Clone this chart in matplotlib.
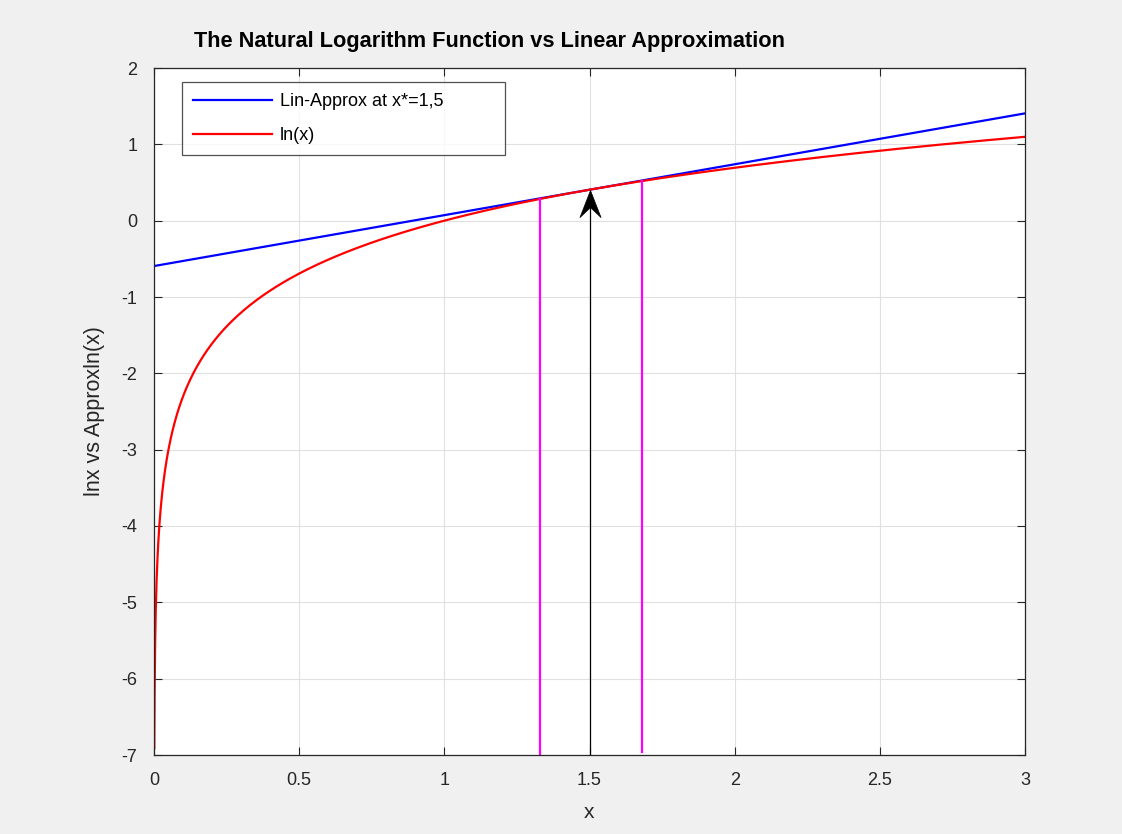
import numpy as np
import matplotlib
matplotlib.use("Agg")
import matplotlib.pyplot as plt
from matplotlib.path import Path

plt.rcParams['font.family'] = ['Liberation Sans', 'DejaVu Sans']
plt.rcParams['axes.unicode_minus'] = False

# Data / parameters
x_star = 1.5
x_min, x_max = 0.001, 3.0
bound_left = 1.33    # magenta marker lines
bound_right = 1.68
bound_bottoms = [-7.0, -6.96]
xticks = [0, 0.5, 1, 1.5, 2, 2.5, 3]
xticklabels = ['0', '0.5', '1', '1.5', '2', '2.5', '3']
yticks = [-7, -6, -5, -4, -3, -2, -1, 0, 1, 2]
labels = ["Lin-Approx at x*=1,5", "ln(x)"]

x = np.linspace(x_min, x_max, 3000)
ln_x = np.log(x)
lin = np.log(x_star) + (x - x_star) / x_star

fig = plt.figure(figsize=(11.22, 8.34), dpi=100, facecolor='#f0f0f0')
ax = fig.add_axes([154/1122, 79/834, (1025-154)/1122, (755-68)/834])
ax.set_facecolor('white')

ax.plot(x, lin, color='#0000ff', lw=1.6, label=labels[0])
ax.plot(x, ln_x, color='#ff0000', lw=1.6, label=labels[1])

for xb, yb in zip([bound_left, bound_right], bound_bottoms):
    ax.plot([xb, xb], [yb, np.log(xb)], color='#ff00ff', lw=1.6)

# arrow: shaft + notched arrowhead marker (tip at path origin)
tip_y = np.log(x_star)
ax.plot([x_star, x_star], [-7.0, tip_y - 0.1], color='black', lw=0.9)
head = Path([(0, 0), (-0.39, -1.0), (0, -0.63), (0.39, -1.0), (0, 0)],
            [Path.MOVETO, Path.LINETO, Path.LINETO, Path.LINETO, Path.CLOSEPOLY])
ax.plot([x_star], [tip_y], marker=head, markersize=39, color='black',
        markeredgewidth=0.5, linestyle='none', zorder=5)

ax.set_xlim(0, 3)
ax.set_ylim(-7, 2)
ax.set_xticks(xticks)
ax.set_xticklabels(xticklabels)
ax.set_yticks(yticks)
ax.grid(True, color='#e0e0e0', lw=0.8)
ax.set_axisbelow(True)
ax.tick_params(direction='in', top=True, right=True, length=6, width=0.8,
               labelsize=13, colors='#262626', pad=12)
for s in ax.spines.values():
    s.set_color('#262626')
    s.set_linewidth(0.9)

ax.set_xlabel('x', fontsize=15, color='#262626', labelpad=10)
ax.set_ylabel('lnx vs Approxln(x)', fontsize=15.5, color='#262626', labelpad=12)
fig.text(489.5/1122, 1 - 42/834, 'The Natural Logarithm Function vs Linear Approximation',
         ha='center', va='center', fontsize=15.7, fontweight='bold', color='black')

leg_top = 1 - (82-68)/687
leg = ax.legend(loc='upper left',
                bbox_to_anchor=((182-154)/871, leg_top - 0.05, (505-182)/871, 0.05),
                mode='expand',
                fontsize=13, frameon=True, fancybox=False, edgecolor='#262626',
                handlelength=4.4, borderaxespad=0, labelspacing=0.95,
                borderpad=0.6, handletextpad=0.4)
leg.get_frame().set_linewidth(0.9)

fig.savefig('out.png', dpi=100, facecolor=fig.get_facecolor())
